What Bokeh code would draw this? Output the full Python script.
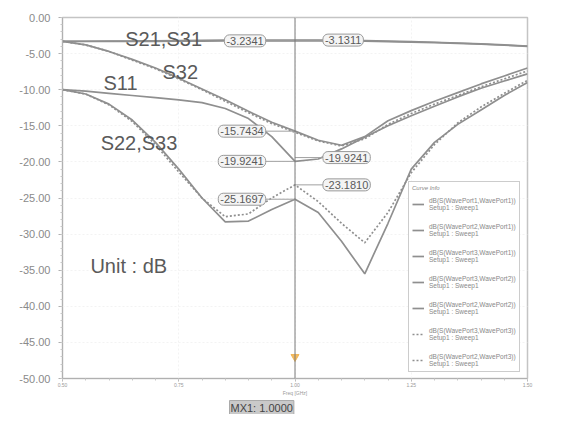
from bokeh.plotting import figure
from bokeh.models import Range1d, FixedTicker, PrintfTickFormatter, Label, Legend, LegendItem, Span, Title
from bokeh.embed import file_html
from bokeh.resources import INLINE

# ---------------- data ----------------
freq = [0.50, 0.55, 0.60, 0.65, 0.70, 0.75, 0.80, 0.85, 0.90, 0.95, 1.00,
        1.05, 1.10, 1.15, 1.20, 1.25, 1.30, 1.35, 1.40, 1.45, 1.50]

s11 = [-10.0, -10.2, -10.5, -10.8, -11.1, -11.4, -11.8, -12.6, -14.0, -16.5, -19.92,
       -19.6, -18.2, -16.6, -15.0, -13.6, -12.3, -11.0, -9.8, -8.8, -7.8]
s21 = [-3.30, -3.31, -3.32, -3.32, -3.31, -3.29, -3.27, -3.25, -3.24, -3.235, -3.2341,
       -3.24, -3.26, -3.29, -3.33, -3.40, -3.48, -3.58, -3.70, -3.84, -4.00]
s31 = [-3.30, -3.29, -3.27, -3.25, -3.22, -3.19, -3.16, -3.14, -3.13, -3.13, -3.1311,
       -3.14, -3.17, -3.21, -3.27, -3.34, -3.43, -3.53, -3.65, -3.79, -3.95]
s32 = [-3.3, -3.8, -4.7, -5.8, -7.0, -8.4, -9.9, -11.4, -13.0, -14.5, -15.74,
       -17.0, -17.7, -16.5, -14.3, -12.9, -11.6, -10.4, -9.2, -8.1, -7.0]
s23 = [-3.3, -3.8, -4.7, -5.9, -7.1, -8.5, -10.0, -11.6, -13.2, -14.7, -15.9,
       -17.1, -17.8, -16.8, -14.8, -13.3, -12.0, -10.8, -9.6, -8.5, -7.4]
s22 = [-10.0, -10.6, -12.0, -14.2, -17.3, -21.0, -25.0, -28.3, -28.2, -26.6, -25.17,
       -27.0, -31.0, -35.5, -28.5, -21.0, -17.3, -14.8, -12.8, -10.8, -9.0]
s33 = [-10.0, -10.6, -12.1, -14.4, -17.6, -21.4, -25.0, -27.6, -27.2, -25.0, -23.18,
       -25.5, -28.5, -31.2, -27.0, -21.5, -17.6, -14.6, -12.4, -10.5, -8.7]

series = [
    ("dB(S(WavePort1,WavePort1))\nSetup1 : Sweep1", s11, "solid"),
    ("dB(S(WavePort2,WavePort1))\nSetup1 : Sweep1", s21, "solid"),
    ("dB(S(WavePort3,WavePort1))\nSetup1 : Sweep1", s31, "solid"),
    ("dB(S(WavePort3,WavePort2))\nSetup1 : Sweep1", s32, "solid"),
    ("dB(S(WavePort2,WavePort2))\nSetup1 : Sweep1", s22, "solid"),
    ("dB(S(WavePort3,WavePort3))\nSetup1 : Sweep1", s33, "2 2"),
    ("dB(S(WavePort2,WavePort3))\nSetup1 : Sweep1", s23, "2 2"),
]

y_ticks = [0, -5, -10, -15, -20, -25, -30, -35, -40, -45, -50]
x_ticks = [0.50, 0.75, 1.00, 1.25, 1.50]
mx1 = 1.0
mx1_marker_y = -47.0

left_markers = ["-3.2341", "-15.7434", "-19.9241", "-25.1697"]
left_marker_vals = [-3.2341, -15.7434, -19.9241, -25.1697]
right_markers = ["-3.1311", "-19.9241", "-23.1810"]
right_marker_vals = [-3.1311, -19.4, -23.1810]

curve_names = ["S21,S31", "S32", "S11", "S22,S33"]
curve_name_x = [0.635, 0.715, 0.588, 0.582]
curve_name_y = [-3.0, -7.5, -9.1, -17.4]

FONT = "Liberation Sans"
LINE = "#8f8f8f"
TXT = "#5a5a5a"

p = figure(width=554, height=414, x_range=Range1d(0.5, 1.5), y_range=Range1d(-50, 0),
           output_backend="svg", toolbar_location=None,
           min_border_left=62, min_border_right=27, min_border_top=17, min_border_bottom=0,
           background_fill_color="white", border_fill_color="white")
p.outline_line_color = "#c4c4c4"
p.outline_line_width = 1.5

p.grid.grid_line_color = "#f3f3f3"
p.grid.grid_line_dash = "2 2"

p.yaxis.ticker = FixedTicker(ticks=y_ticks, minor_ticks=list(range(-50, 1)))
p.yaxis.formatter = PrintfTickFormatter(format="%.2f")
p.yaxis.major_label_text_font = FONT
p.yaxis.major_label_text_font_size = "11px"
p.yaxis.major_label_text_color = "#8a8a8a"
p.yaxis.major_label_standoff = 8
p.yaxis.axis_line_color = "#b0b0b0"
p.yaxis.major_tick_line_color = "#b0b0b0"
p.yaxis.minor_tick_line_color = "#c8c8c8"
p.yaxis.major_tick_out = 4
p.yaxis.major_tick_in = 0
p.yaxis.minor_tick_out = 2
p.yaxis.minor_tick_in = 0

p.xaxis.ticker = FixedTicker(ticks=x_ticks, minor_ticks=[0.5 + 0.05 * i for i in range(21)])
p.xaxis.formatter = PrintfTickFormatter(format="%.2f")
p.xaxis.major_label_text_font = FONT
p.xaxis.major_label_text_font_size = "5px"
p.xaxis.major_label_text_color = "#999999"
p.xaxis.major_label_standoff = 1
p.xaxis.axis_line_color = "#b0b0b0"
p.xaxis.major_tick_line_color = "#b0b0b0"
p.xaxis.minor_tick_line_color = "#c8c8c8"
p.xaxis.major_tick_out = 3
p.xaxis.minor_tick_out = 2
p.xaxis.major_tick_in = 0
p.xaxis.minor_tick_in = 0
p.xaxis.axis_label = "Freq [GHz]"
p.xaxis.axis_label_text_font = FONT
p.xaxis.axis_label_text_font_size = "5px"
p.xaxis.axis_label_text_font_style = "normal"
p.xaxis.axis_label_text_color = "#999999"
p.xaxis.axis_label_standoff = 0

items = []
for name, ys, dash in series:
    r = p.line(freq, ys, line_color=LINE, line_width=1.7, line_dash=dash)
    items.append(LegendItem(label=name, renderers=[r]))

# marker line
p.add_layout(Span(location=mx1, dimension="height", line_color="#7a7a7a", line_width=1))
p.scatter([mx1], [mx1_marker_y], marker="inverted_triangle", size=8, color="#f2b450", alpha=0.9)

# leader lines + marker labels
dx_l = 0.063
dx_r = 0.06
for t, v in zip(left_markers, left_marker_vals):
    p.segment(x0=[mx1 - dx_l], y0=[v], x1=[mx1], y1=[v], line_color="#a0a0a0", line_width=1)
    p.add_layout(Label(x=mx1 - dx_l, y=v, text=t, text_align="right", text_baseline="middle",
                       text_font=FONT, text_font_size="11px", text_color=TXT,
                       border_line_color="#9a9a9a", background_fill_color="#f4f4f4",
                       padding=2, border_radius=5))
for t, v in zip(right_markers, right_marker_vals):
    p.segment(x0=[mx1], y0=[v], x1=[mx1 + dx_r], y1=[v], line_color="#a0a0a0", line_width=1)
    p.add_layout(Label(x=mx1 + dx_r, y=v, text=t, text_align="left", text_baseline="middle",
                       text_font=FONT, text_font_size="11px", text_color=TXT,
                       border_line_color="#9a9a9a", background_fill_color="#f4f4f4",
                       padding=2, border_radius=5))

for t, x, y in zip(curve_names, curve_name_x, curve_name_y):
    p.add_layout(Label(x=x, y=y, text=t, text_font=FONT, text_font_size="20px",
                       text_color=TXT, text_baseline="alphabetic"))

p.add_layout(Label(x=0.56, y=-36.0, text="Unit : dB", text_font=FONT, text_font_size="20px",
                   text_color=TXT))

mx_title = Title(text="MX1: 1.0000", align="left", offset=167, standoff=0,
                 text_font=FONT, text_font_size="11px", text_font_style="normal",
                 text_color="#444444", background_fill_color="#c9c9c9",
                 border_line_color="#aaaaaa", padding=1)
p.add_layout(mx_title, "below")

legend = Legend(items=items, location=(346, 6), title="Curve Info",
                title_text_font=FONT, title_text_font_size="6px", title_text_color="#888888",
                label_text_font=FONT, label_text_font_size="6.5px", label_text_color="#888888",
                label_text_line_height=1.2,
                glyph_width=12, glyph_height=8, label_height=16,
                spacing=10, padding=3, margin=0, border_line_color="#999999",
                background_fill_color="white", background_fill_alpha=1.0)
p.add_layout(legend, "center")

open("out.html", "w").write(file_html(p, INLINE))
